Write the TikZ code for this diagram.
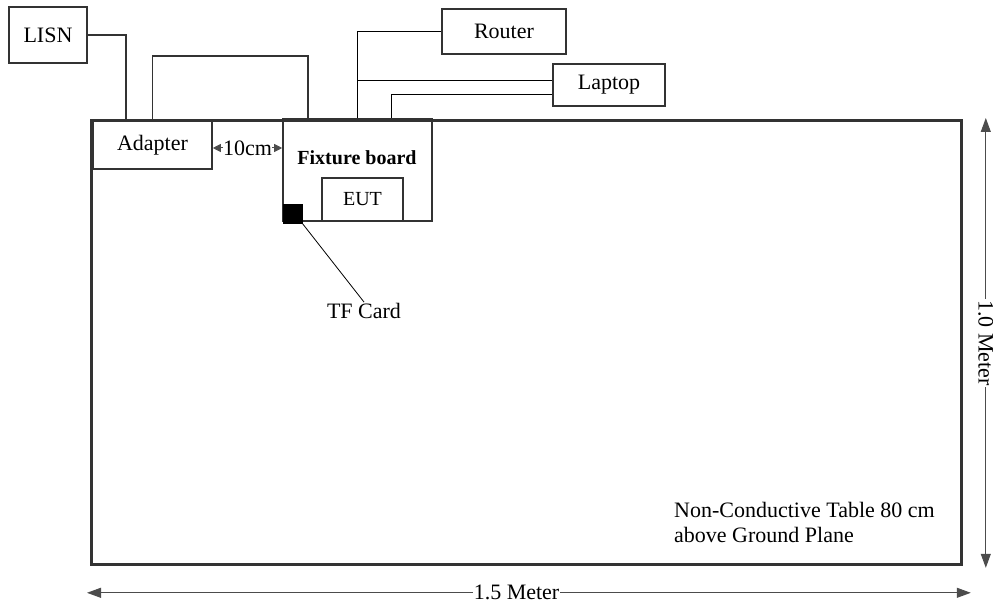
\documentclass[tikz,border=0pt]{standalone}
\usepackage{fontspec}
\setmainfont{Liberation Serif}
\usetikzlibrary{arrows.meta}

\begin{document}
\begin{tikzpicture}[x=1pt,y=-1pt,
  box/.style={draw=black!80,line width=1.6pt,inner sep=0pt,font=\fontsize{22}{24}\selectfont},
  wire/.style={draw=black!80,line width=1.5pt},
  thinwire/.style={draw=black,line width=0.8pt},
  dim/.style={draw=black!70,line width=1pt,{Triangle[length=14pt,width=10pt]}-{Triangle[length=14pt,width=10pt]}},
  smalldim/.style={draw=black!70,line width=1pt,{Triangle[length=8pt,width=8pt]}-{Triangle[length=8pt,width=8pt]}},
  lbl/.style={font=\fontsize{22}{25}\selectfont,inner sep=1pt}]
\useasboundingbox (0,0) rectangle (993,604);

\path (90,119) node[box,line width=2.8pt,minimum width=870pt,minimum height=444pt,anchor=north west] (table){};
\path (48,35) node[box,minimum width=78pt,minimum height=56pt] (lisn){LISN};
\path (152.5,145) node[box,minimum width=119pt,minimum height=48pt] (adapter){Adapter};
\path (357.5,170) node[box,minimum width=149pt,minimum height=102pt] (fixture){};
\path (357,158) node[font=\fontsize{20}{22}\selectfont\bfseries] (fixlabel){Fixture board};
\path (362.5,199.5) node[box,font=\fontsize{20}{22}\selectfont,minimum width=81pt,minimum height=43pt] (eut){EUT};
\path (292.5,213.5) node[fill=black,draw=black,minimum size=19pt,inner sep=0pt] (tf){};
\path (364,311) node[lbl] (tflabel){TF Card};
\path (504,31.5) node[box,minimum width=124pt,minimum height=45pt] (router){Router};
\path (609,85) node[box,minimum width=112pt,minimum height=42pt] (laptop){Laptop};
\path (673,522) node[lbl,anchor=west,align=left] (note){Non-Conductive Table 80 cm\\above Ground Plane};

\coordinate (lisnin) at (126,119);
\coordinate (loop) at (308,56);
\draw[wire] (lisn.east) -| (lisnin);
\draw[wire] (adapter.north) |- (loop) -- (loop |- fixture.north);
\draw[thinwire] (fixture.north) |- (router.west);
\draw[thinwire] ([yshift=5pt]laptop.west) -- ([yshift=5pt]laptop.west -| fixture.north);
\draw[thinwire] ([yshift=-9pt]laptop.west) -| ([xshift=33.5pt]fixture.north);
\draw[thinwire] (tf.south east) -- (tflabel.north);

% dimensions
\draw[smalldim] ([yshift=-3pt]adapter.east) -- node[lbl,fill=white,inner sep=0pt]{10cm} ([yshift=-3pt]adapter.east -| fixture.west);
\draw[dim] ([xshift=-3pt,yshift=-27pt]table.south west) -- node[lbl,fill=white,pos=0.486]{1.5 Meter} ([xshift=8pt,yshift=-27pt]table.south east);
\draw[dim] ([xshift=23pt,yshift=1pt]table.north east) -- node[lbl,fill=white,rotate=-90]{1.0 Meter} ([xshift=23pt,yshift=-2pt]table.south east);
\end{tikzpicture}
\end{document}
